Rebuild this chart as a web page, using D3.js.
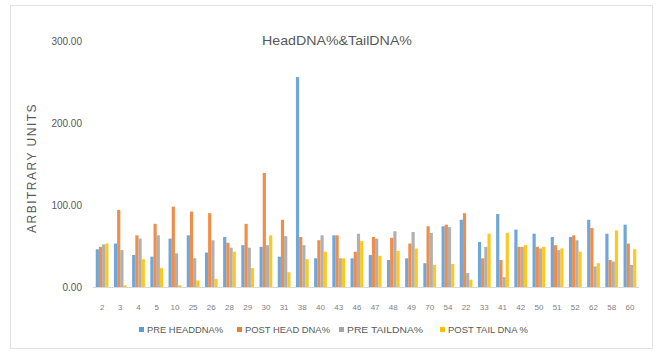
<!DOCTYPE html>
<html><head><meta charset="utf-8">
<script src="https://cdn.jsdelivr.net/npm/d3@7/dist/d3.min.js"></script>
<style>
body{margin:0;background:#fff;}
svg{display:block;font-family:"Liberation Sans","DejaVu Sans",sans-serif;}
</style></head>
<body>
<svg id="c" width="659" height="355"></svg>
<script>
const categories = ["2","3","4","5","10","25","26","28","29","30","31","38","40","43","46","47","48","49","70","54","22","33","41","42","50","51","52","62","58","60"];
const seriesNames = ["PRE HEADDNA%","POST HEAD DNA%","PRE TAILDNA%","POST TAIL DNA %"];
const preHead  = [46,53,39,37,59,63,42,61,51,49,37,256,35,63,35,39,33,35,29,74,82,55,89,70,65,61,61,82,65,76];
const postHead = [49,94,63,77,98,92,90,54,77,139,82,61,57,63,43,61,60,53,74,76,90,35,33,49,49,51,63,72,33,53];
const preTail  = [52,45,59,63,41,35,57,48,48,51,62,51,63,35,65,59,68,67,66,73,17,49,12,49,47,45,57,25,31,27];
const postTail = [53,2,34,23,2,8,10,43,23,63,18,34,43,35,56,38,44,47,27,28,9,65,66,51,49,47,43,29,69,46];
const yTicks = [0,100,200,300];
const colors = ["#5B9BD5","#ED7D31","#A5A5A5","#FFC000"];

const series = [preHead, postHead, preTail, postTail];
const svg = d3.select("#c");

// chart border
svg.append("rect").attr("x",10.5).attr("y",5.5).attr("width",642).attr("height",343)
  .attr("fill","#fff").attr("stroke","#e3e3e3");

const x = d3.scaleBand().domain(d3.range(categories.length)).range([93,639]).paddingInner(0.3).paddingOuter(0.15);
const xs = d3.scaleBand().domain(d3.range(series.length)).range([0,x.bandwidth()]);
const y = d3.scaleLinear().domain([0,300]).range([287,41]);

// bars
series.forEach((s,si)=>{
  svg.append("g").selectAll("rect").data(s).join("rect")
    .attr("x",(d,i)=>x(i)+xs(si))
    .attr("width",xs.bandwidth())
    .attr("y",d=>y(d))
    .attr("height",d=>y(0)-y(d))
    .attr("fill",colors[si]).attr("opacity",0.88);
});

// baseline
svg.append("line").attr("x1",93).attr("x2",639).attr("y1",287.5).attr("y2",287.5).attr("stroke","#d9d9d9");

// y axis
const ya = d3.axisLeft(y).tickValues(yTicks).tickFormat(d3.format(".2f")).tickSize(0).tickPadding(0);
const yg = svg.append("g").attr("transform","translate(82,0)").call(ya);
yg.select(".domain").remove();
yg.selectAll("text").attr("fill","#595959").attr("font-size","10px").attr("dy","0.32em");

// x axis
const xa = d3.axisBottom(x).tickFormat(i=>categories[i]).tickSize(0).tickPadding(0);
const xg = svg.append("g").attr("transform","translate(0,304)").call(xa);
xg.select(".domain").remove();
xg.selectAll("text").attr("fill","#7f7f7f").attr("font-size","8px");

// title
svg.append("text").attr("x",337).attr("y",45).attr("text-anchor","middle")
  .attr("fill","#595959").attr("font-size","13px").attr("textLength",150).attr("lengthAdjust","spacingAndGlyphs")
  .text("HeadDNA%&TailDNA%");

// y title
svg.append("text").attr("transform","translate(36,168) rotate(-90)").attr("text-anchor","middle")
  .attr("fill","#595959").attr("font-size","12px").attr("letter-spacing","1.5px")
  .text("ARBITRARY UNITS");

// legend
const legX = [139,237,339,440];
const legW = [76,85,76,80];
seriesNames.forEach((n,i)=>{
  svg.append("rect").attr("x",legX[i]).attr("y",327).attr("width",5).attr("height",5).attr("fill",colors[i]);
  svg.append("text").attr("x",legX[i]+8).attr("y",333).attr("fill","#595959").attr("font-size","9px")
    .attr("textLength",legW[i]).attr("lengthAdjust","spacingAndGlyphs").text(n);
});
</script>
</body></html>
